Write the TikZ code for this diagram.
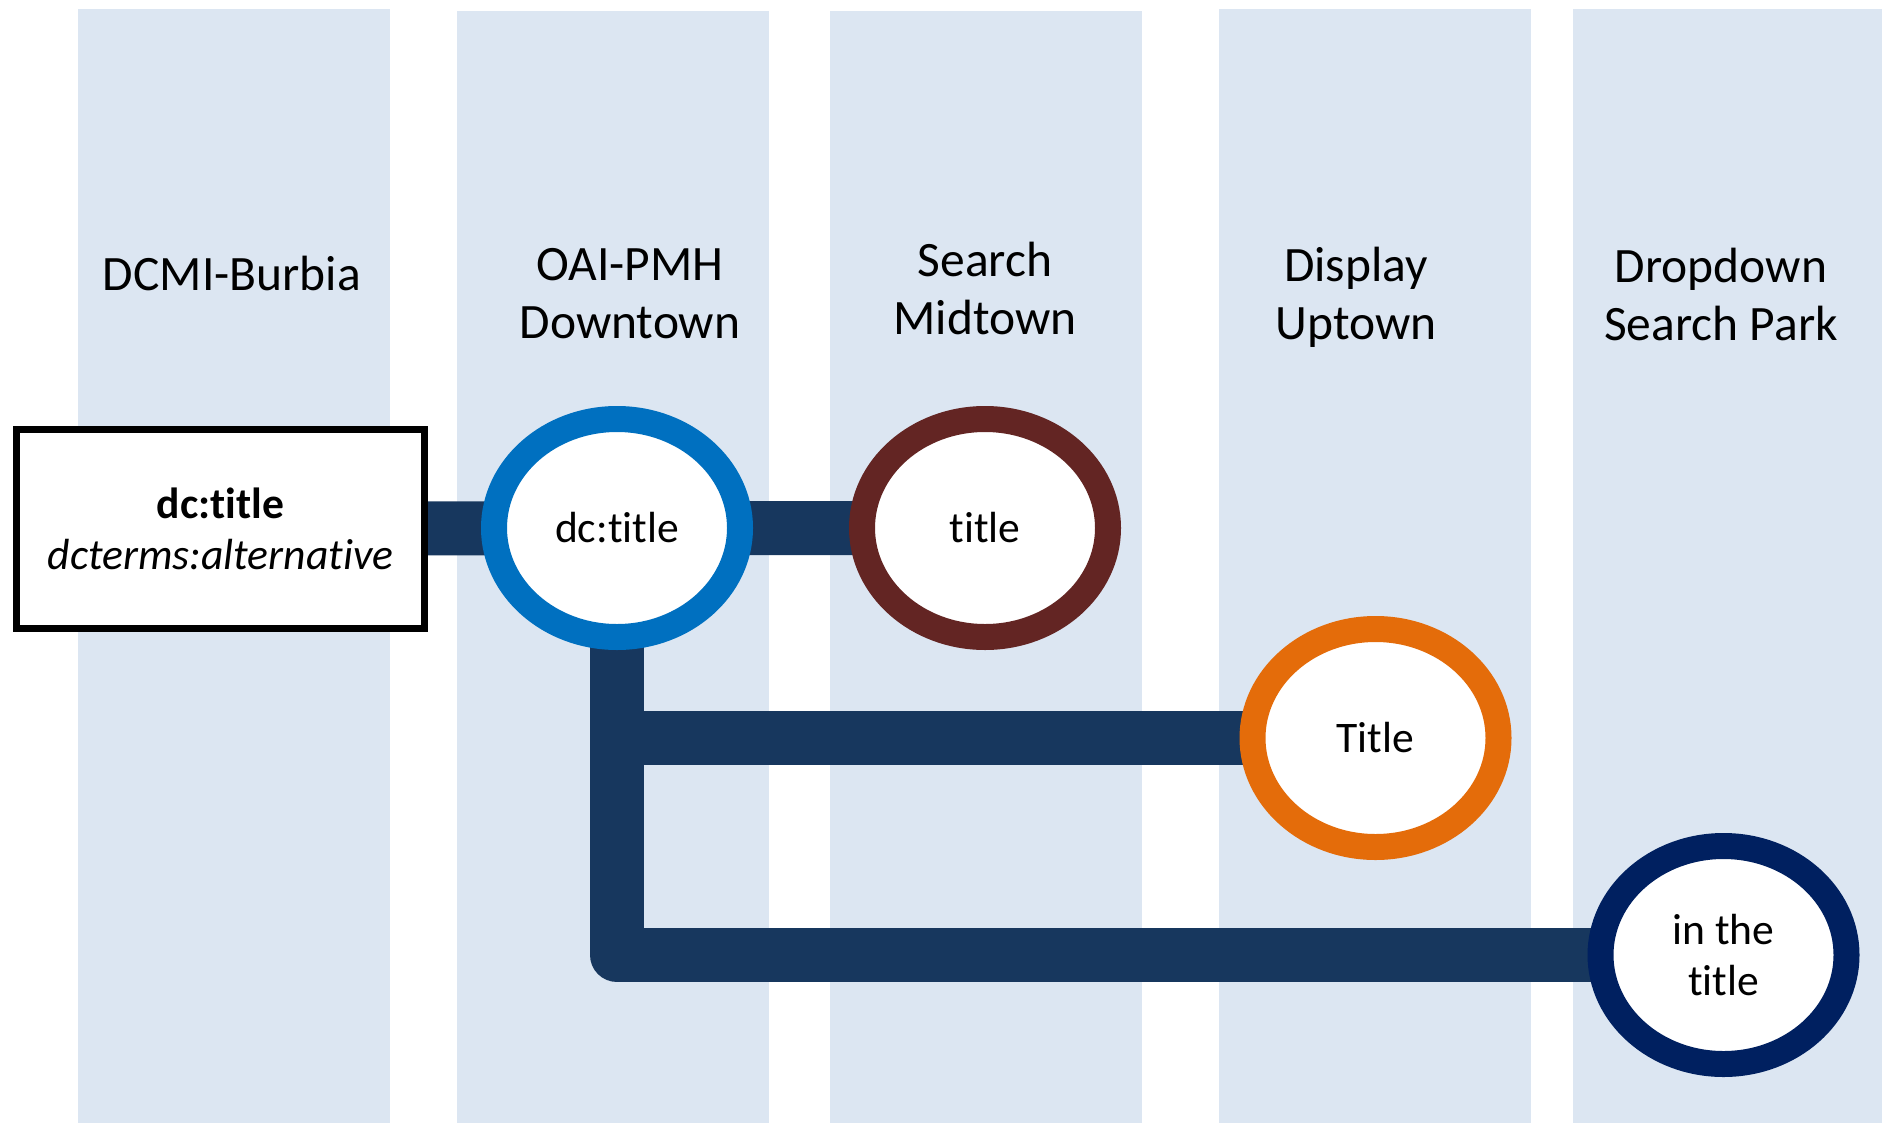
\documentclass[tikz,border=0pt]{standalone}
\usepackage{fontspec}
\setmainfont{Carlito}[Ligatures=NoCommon]
\usepackage[HTML]{xcolor}
\usepackage{tikz}
\usetikzlibrary{positioning, shapes.geometric, backgrounds}

\definecolor{laneblue}{HTML}{DCE6F2}
\definecolor{barnavy}{HTML}{17375E}
\definecolor{ringblue}{HTML}{0070C0}
\definecolor{ringbrown}{HTML}{632523}
\definecolor{ringorange}{HTML}{E46C0A}
\definecolor{ringnavy}{HTML}{002060}

\newcommand{\headfont}{\fontsize{24.75}{29}\selectfont}
\newcommand{\bodyfont}{\fontsize{21.8}{25.5}\selectfont}

\pgfdeclarelayer{lanes}
\pgfsetlayers{lanes,main}

\tikzset{
  lane/.style={fill=laneblue},
  lanetitle/.style={font=\headfont, align=center, anchor=base, inner sep=0pt},
  stopring/.style={ellipse, draw=#1, line width=13pt, fill=white,
    minimum width=123pt, minimum height=109pt, inner sep=0pt,
    align=center, font=\bodyfont},
  sourcebox/.style={draw=black, line width=3.5pt, fill=white,
    minimum width=204pt, minimum height=99.5pt, inner sep=0pt,
    align=center, font=\bodyfont},
  bar/.style={draw=barnavy, line width=27pt}
}

\begin{document}
\begin{tikzpicture}[x=0.5pt, y=-0.5pt]
\useasboundingbox (0,0) rectangle (1882,1123);

% --- Lanes ---
\begin{pgfonlayer}{lanes}
\fill[lane] (78,9) rectangle (390,1123);
\fill[lane] (457,11) rectangle (769,1123);
\fill[lane] (830,11) rectangle (1142,1123);
\fill[lane] (1219,9) rectangle (1531,1123);
\fill[lane] (1573,9) rectangle (1882,1123);
\end{pgfonlayer}

% --- Lane titles ---
\node[lanetitle] (dcmititle) at (232,290) {DCMI-Burbia};
\node[lanetitle] (oaititle) at (630,338) {OAI-PMH\\Downtown};
\node[lanetitle] (searchtitle) at (985,334) {Search\\Midtown};
\node[lanetitle] (displaytitle) at (1356,339) {Display\\Uptown};
\node[lanetitle] (parktitle) at (1721,340) {Dropdown\\Search Park};

% --- Source and stops ---
\node[sourcebox] (dcmi) at (220.5,529) {\textbf{dc:title}\\\textit{dcterms:alternative}};
\node[stopring=ringblue] (oai) at (617,528) {dc:title};
\node[stopring=ringbrown] (search) at (985,528) {title};
\node[stopring=ringorange] (display) at (1375.5,738) {Title};
\node[stopring=ringnavy] (park) at (1723.5,955) {in the\\title};

% --- Lines ---
\begin{pgfonlayer}{lanes}
\draw[bar] (dcmi.center) -- (oai.center) -- (search.center);
\draw[bar, line join=round] (oai.center) -- (oai.center |- park.center) -- (park.center);
\draw[bar] (oai.center |- display.center) -- (display.center);
\end{pgfonlayer}
\end{tikzpicture}
\end{document}
